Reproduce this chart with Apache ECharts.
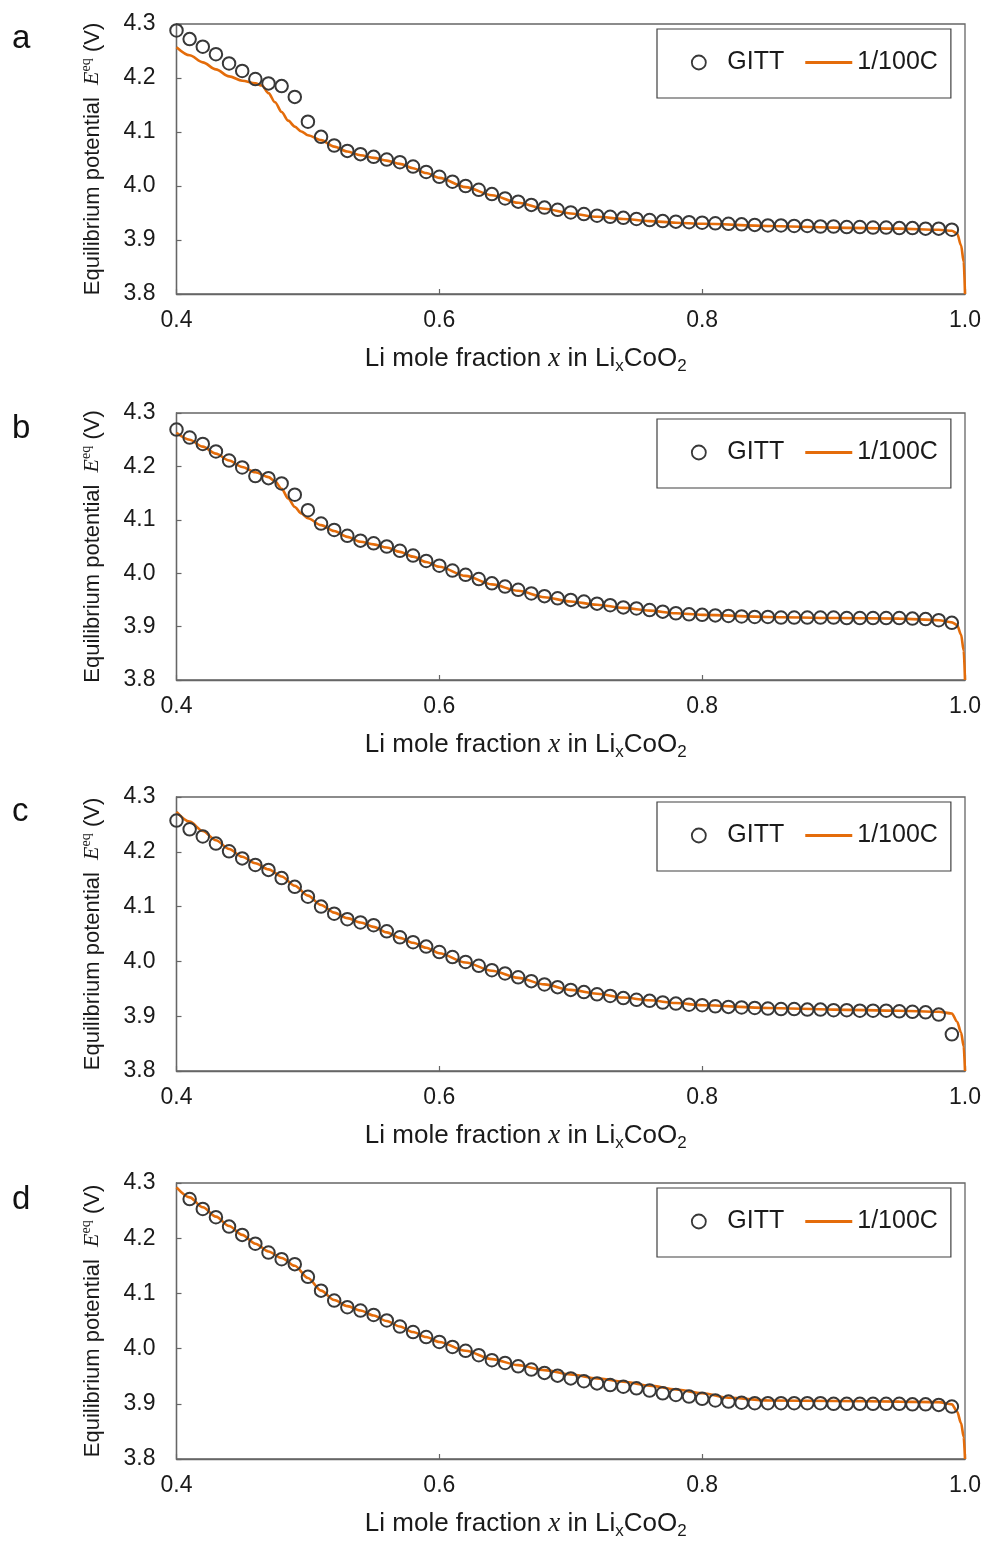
<!DOCTYPE html>
<html><head><meta charset="utf-8">
<script src="https://cdn.jsdelivr.net/npm/echarts@6/dist/echarts.min.js"></script>
<style>html,body{margin:0;padding:0;background:#fff}#c{width:985px;height:1541px}</style>
</head><body><div id="c"></div>
<script>
// ---------------- DATA ----------------
const panelLetters = ['a', 'b', 'c', 'd'];
const xTickLabels = ['0.4', '0.6', '0.8', '1.0'];
const yTickLabels = ['3.8', '3.9', '4.0', '4.1', '4.2', '4.3'];
const seriesNames = ['GITT', '1/100C'];

// GITT sampling points (Li mole fraction x)
const gittX = [0.40,0.41,0.42,0.43,0.44,0.45,0.46,0.47,0.48,0.49,
               0.50,0.51,0.52,0.53,0.54,0.55,0.56,0.57,0.58,0.59,
               0.60,0.61,0.62,0.63,0.64,0.65,0.66,0.67,0.68,0.69,
               0.70,0.71,0.72,0.73,0.74,0.75,0.76,0.77,0.78,0.79,
               0.80,0.81,0.82,0.83,0.84,0.85,0.86,0.87,0.88,0.89,
               0.90,0.91,0.92,0.93,0.94,0.95,0.96,0.97,0.98,0.99];

const gittA = [4.288,4.272,4.258,4.244,4.227,4.213,4.198,4.190,4.185,4.165,
               4.119,4.091,4.075,4.065,4.059,4.054,4.049,4.044,4.036,4.026,
               4.017,4.008,4.000,3.993,3.985,3.977,3.971,3.965,3.960,3.956,
               3.951,3.948,3.945,3.943,3.941,3.939,3.937,3.935,3.934,3.933,
               3.932,3.931,3.930,3.929,3.928,3.927,3.927,3.926,3.926,3.925,
               3.925,3.924,3.924,3.923,3.923,3.922,3.922,3.921,3.921,3.919];
const gittB = [4.269,4.254,4.242,4.228,4.211,4.198,4.182,4.178,4.168,4.147,
               4.118,4.093,4.081,4.070,4.061,4.056,4.050,4.042,4.033,4.023,
               4.014,4.005,3.997,3.989,3.981,3.975,3.969,3.962,3.957,3.953,
               3.950,3.947,3.943,3.940,3.936,3.934,3.931,3.928,3.925,3.923,
               3.922,3.921,3.920,3.919,3.918,3.918,3.917,3.917,3.917,3.917,
               3.917,3.916,3.916,3.916,3.916,3.916,3.915,3.914,3.912,3.907];
const gittC = [4.257,4.241,4.228,4.215,4.201,4.188,4.176,4.167,4.152,4.136,
               4.118,4.100,4.087,4.077,4.071,4.066,4.055,4.044,4.035,4.027,
               4.017,4.008,3.999,3.992,3.984,3.978,3.971,3.964,3.958,3.953,
               3.948,3.944,3.940,3.937,3.933,3.930,3.928,3.925,3.923,3.921,
               3.920,3.918,3.917,3.916,3.915,3.914,3.913,3.913,3.912,3.912,
               3.911,3.911,3.910,3.910,3.910,3.909,3.908,3.907,3.903,3.867];
const gittD = [null, 4.271,4.253,4.238,4.221,4.206,4.190,4.174,4.162,4.153,
               4.130,4.105,4.087,4.075,4.069,4.061,4.051,4.040,4.030,4.021,
               4.012,4.003,3.996,3.988,3.979,3.974,3.968,3.962,3.956,3.951,
               3.946,3.941,3.937,3.934,3.931,3.928,3.924,3.919,3.916,3.913,
               3.909,3.906,3.904,3.902,3.901,3.901,3.901,3.901,3.901,3.901,
               3.900,3.900,3.900,3.900,3.900,3.900,3.899,3.899,3.898,3.895];

// 1/100C curves
const lineXA = [0.400,0.410,0.420,0.430,0.440,0.450,0.460,0.465,0.470,0.475,0.480,0.485,0.490,0.495,0.500,
                0.510,0.520,0.530,0.540,0.550,0.560,0.570,0.580,0.590,0.600,0.620,0.640,0.660,0.680,0.700,
                0.720,0.740,0.760,0.780,0.800,0.850,0.900,0.950,0.980,0.990,0.994,0.997,0.999,1.000];
const lineYA = [4.257,4.242,4.229,4.216,4.203,4.195,4.190,4.186,4.172,4.155,4.137,4.121,4.110,4.101,4.094,
                4.085,4.073,4.064,4.057,4.052,4.047,4.041,4.033,4.024,4.015,3.998,3.983,3.969,3.958,3.949,
                3.943,3.939,3.935,3.932,3.930,3.926,3.923,3.921,3.919,3.917,3.912,3.890,3.860,3.800];

const lineXB = [0.400,0.410,0.420,0.430,0.440,0.450,0.460,0.470,0.475,0.480,0.485,0.490,0.495,0.500,
                0.510,0.520,0.530,0.540,0.550,0.560,0.570,0.580,0.590,0.600,0.620,0.640,0.660,0.680,0.700,
                0.720,0.740,0.760,0.780,0.800,0.850,0.900,0.950,0.980,0.990,0.994,0.997,0.999,1.000];
const lineYB = [4.263,4.250,4.237,4.224,4.211,4.199,4.189,4.180,4.172,4.158,4.140,4.124,4.112,4.103,
                4.090,4.079,4.068,4.059,4.054,4.048,4.040,4.031,4.021,4.012,3.995,3.979,3.967,3.955,3.947,
                3.941,3.935,3.930,3.925,3.922,3.918,3.916,3.915,3.912,3.908,3.903,3.885,3.855,3.800];

const lineXC = [0.400,0.410,0.420,0.430,0.440,0.450,0.460,0.470,0.480,0.490,0.500,
                0.510,0.520,0.530,0.540,0.550,0.560,0.570,0.580,0.590,0.600,0.620,0.640,0.660,0.680,0.700,
                0.720,0.740,0.760,0.780,0.800,0.850,0.900,0.950,0.980,0.990,0.994,0.997,0.999,1.000];
const lineYC = [4.273,4.255,4.238,4.221,4.205,4.191,4.179,4.168,4.155,4.138,4.120,
                4.103,4.089,4.079,4.071,4.063,4.053,4.043,4.034,4.025,4.015,3.998,3.983,3.970,3.958,3.948,
                3.941,3.934,3.929,3.924,3.920,3.915,3.912,3.910,3.908,3.905,3.890,3.870,3.845,3.800];

const lineXD = [0.400,0.410,0.420,0.430,0.440,0.450,0.460,0.470,0.480,0.490,0.500,
                0.510,0.520,0.530,0.540,0.550,0.560,0.570,0.580,0.590,0.600,0.620,0.640,0.660,0.680,0.700,
                0.720,0.740,0.760,0.780,0.800,0.820,0.850,0.900,0.950,0.980,0.990,0.994,0.997,0.999,1.000];
const lineYD = [4.292,4.274,4.256,4.239,4.222,4.206,4.190,4.176,4.164,4.150,4.128,
                4.105,4.088,4.077,4.069,4.060,4.050,4.040,4.030,4.021,4.012,3.996,3.981,3.970,3.961,3.953,
                3.946,3.940,3.933,3.926,3.919,3.911,3.906,3.905,3.904,3.903,3.899,3.886,3.865,3.840,3.800];

// ---------------- CHART ----------------
const gittSets = [gittA, gittB, gittC, gittD];
const lineSets = [[lineXA, lineYA], [lineXB, lineYB], [lineXC, lineYC], [lineXD, lineYD]];

const FONT = '"Liberation Sans", Arial, sans-serif';
const SERIF = '"Liberation Serif", "DejaVu Serif", serif';
const TXT = '#1a1a1a';
const AXIS = '#666666';
const ORANGE = '#E46C0A';
const CIRC = '#383838';

const tops = [24, 413, 797, 1183];
const heights = [270, 267, 274, 278];
const legendTops = [29, 419, 802, 1188];
const letterY = [41, 431, 814, 1202];

// legend icons: hollow circle centred in a 47x14 cell, and a flat line segment
const ICON_CIRCLE = 'path://M0,0M47,14M31,7A7.5,7.5,0,1,1,16,7A7.5,7.5,0,1,1,31,7Z';
const ICON_LINE = 'path://M0,5.6L47,5.6L47,8.4L0,8.4Z';

const grids = [], xAxes = [], yAxes = [], series = [], legends = [], graphics = [];

tops.forEach((t, i) => {
  grids.push({left: 176.5, right: 20, top: t, height: heights[i], show: true,
    borderColor: AXIS, borderWidth: 1.3, backgroundColor: 'transparent', containLabel: false});
  xAxes.push({
    gridIndex: i, type: 'value', min: 0.4, max: 1.0, interval: 0.2,
    axisLine: {show: true, onZero: false, lineStyle: {color: AXIS, width: 1.3}},
    axisTick: {show: true, inside: true, length: 5, lineStyle: {color: AXIS, width: 1.2}},
    splitLine: {show: false},
    axisLabel: {margin: 15, fontSize: 23, color: TXT, fontFamily: FONT,
      formatter: v => xTickLabels.find(s => Math.abs(parseFloat(s) - v) < 1e-6) || ''},
    name: '{a|Li mole fraction }{i|x}{a| in Li}{s|x}{a|CoO}{s|2}',
    nameLocation: 'middle', nameGap: 49,
    nameTextStyle: {padding: [0, 90, 0, 0], color: TXT, fontFamily: FONT, fontSize: 26,
      rich: {
        a: {fontFamily: FONT, fontSize: 26, color: TXT, lineHeight: 32, verticalAlign: 'middle'},
        i: {fontFamily: SERIF, fontStyle: 'italic', fontSize: 27, color: TXT, lineHeight: 32, verticalAlign: 'middle'},
        s: {fontFamily: FONT, fontSize: 17, color: TXT, lineHeight: 17, verticalAlign: 'bottom'}
      }}
  });
  yAxes.push({
    gridIndex: i, type: 'value', min: 3.8, max: 4.3, interval: 0.1,
    axisLine: {show: true, onZero: false, lineStyle: {color: AXIS, width: 1.3}},
    axisTick: {show: true, inside: true, length: 5, lineStyle: {color: AXIS, width: 1.2}},
    splitLine: {show: false},
    axisLabel: {margin: 21, fontSize: 23, color: TXT, fontFamily: FONT,
      formatter: v => yTickLabels.find(s => Math.abs(parseFloat(s) - v) < 1e-6) || ''},
    name: '{a|Equilibrium potential  }{i|E}{p|eq}{a| (V)}',
    nameLocation: 'middle', nameGap: 71, nameRotate: 90,
    nameTextStyle: {color: TXT, fontFamily: FONT, fontSize: 22,
      rich: {
        a: {fontFamily: FONT, fontSize: 22, color: TXT, lineHeight: 26, verticalAlign: 'middle'},
        i: {fontFamily: SERIF, fontStyle: 'italic', fontSize: 22, color: TXT, lineHeight: 26, verticalAlign: 'middle'},
        p: {fontFamily: SERIF, fontSize: 14, color: TXT, lineHeight: 14, verticalAlign: 'top'}
      }}
  });
  const g = gittSets[i];
  const pts = [];
  g.forEach((v, k) => { if (v !== null) pts.push([gittX[k], v]); });
  const [lx, ly] = lineSets[i];
  series.push({
    type: 'line', name: seriesNames[1], xAxisIndex: i, yAxisIndex: i,
    data: lx.map((x, k) => [x, ly[k]]),
    showSymbol: false, symbol: 'none', smooth: 0.3, smoothMonotone: 'x',
    lineStyle: {color: ORANGE, width: 2.6}, itemStyle: {color: ORANGE}, z: 2
  });
  series.push({
    type: 'scatter', name: seriesNames[0], xAxisIndex: i, yAxisIndex: i,
    data: pts, symbol: 'circle', symbolSize: 12.5,
    itemStyle: {color: 'rgba(0,0,0,0)', borderColor: CIRC, borderWidth: 2, opacity: 1}, z: 3
  });
  legends.push({
    left: 657, top: legendTops[i], orient: 'horizontal',
    padding: [21, 13, 23, 19], itemGap: 21, itemWidth: 47, itemHeight: 14,
    borderColor: '#404040', borderWidth: 1.2, selectedMode: false,
    textStyle: {fontFamily: FONT, fontSize: 25, color: TXT},
    data: [
      {name: seriesNames[0], icon: ICON_CIRCLE, itemStyle: {color: 'rgba(0,0,0,0)', borderColor: CIRC, borderWidth: 1.8}},
      {name: seriesNames[1], icon: ICON_LINE, itemStyle: {color: ORANGE, borderWidth: 0}}
    ]
  });
  graphics.push({type: 'text', left: 12, top: letterY[i] - 19,
    style: {text: panelLetters[i], fontFamily: FONT, fontSize: 33, fill: '#111'}});
});

const chart = echarts.init(document.getElementById('c'), null, {renderer: 'canvas'});
chart.setOption({
  animation: false,
  backgroundColor: '#fff',
  grid: grids, xAxis: xAxes, yAxis: yAxes, series: series, legend: legends, graphic: graphics
});
</script></body></html>
